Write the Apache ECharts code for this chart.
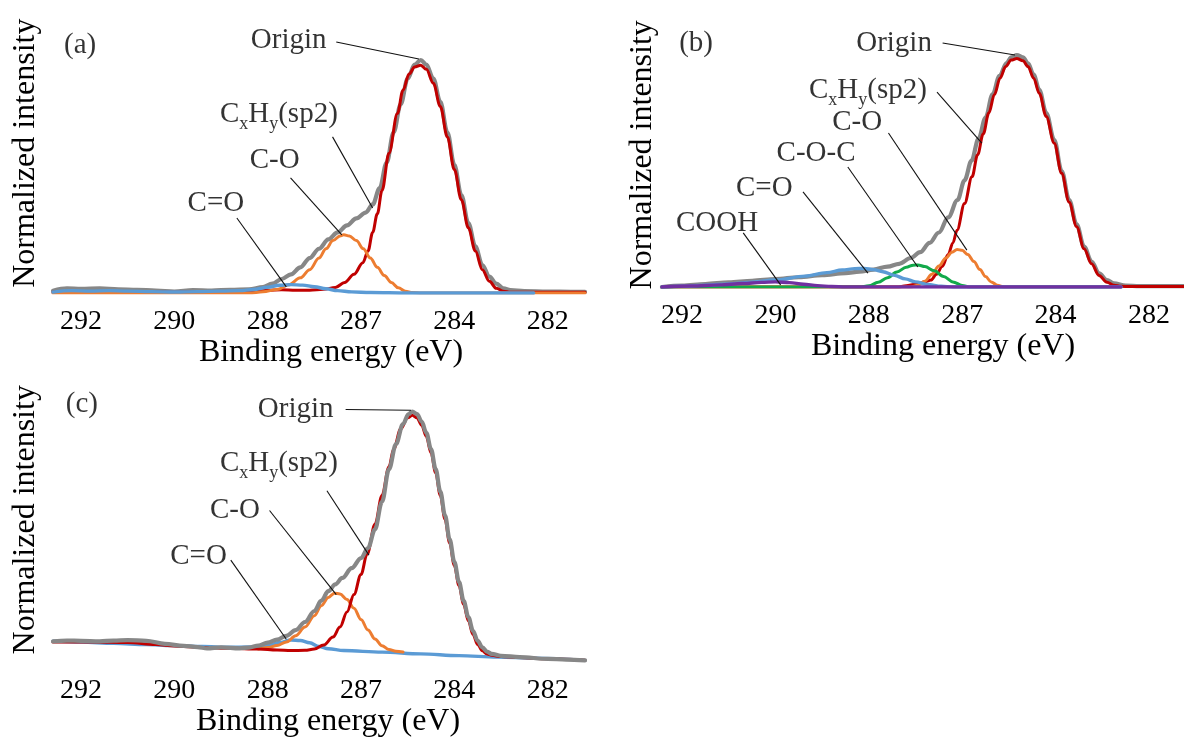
<!DOCTYPE html>
<html>
<head>
<meta charset="utf-8">
<script src="https://cdn.jsdelivr.net/npm/echarts@6/dist/echarts.min.js"></script>
<style>
html,body{margin:0;padding:0;background:#fff;}
#chart{width:1184px;height:739px;}
</style>
</head>
<body>
<div id="chart"></div>
<script>
// ---------- tick labels ----------
const tickValues = [292, 290, 288, 286, 284, 282];
const tickLabels = ['292', '290', '288', '287', '284', '282'];

// ---------- panel (a) : [binding energy eV, normalized intensity] ----------
const aOrigin = [[292.6,0.01],[292.3,0.02],[292.0,0.018],[291.6,0.02],[291.2,0.016],[290.8,0.014],[290.4,0.01],[290.0,0.006],[289.6,0.012],[289.2,0.01],[288.8,0.014],[288.4,0.016],[288.1,0.025],[287.9,0.04],[287.7,0.06],[287.5,0.08],[287.3,0.11],[287.1,0.15],[286.9,0.19],[286.7,0.23],[286.5,0.26],[286.3,0.29],[286.1,0.32],[285.9,0.345],[285.75,0.38],[285.6,0.45],[285.45,0.56],[285.3,0.69],[285.15,0.81],[285.0,0.92],[284.85,0.98],[284.72,1.0],[284.6,0.98],[284.45,0.92],[284.3,0.82],[284.15,0.69],[284.0,0.55],[283.85,0.42],[283.7,0.3],[283.55,0.2],[283.4,0.12],[283.25,0.07],[283.1,0.04],[282.95,0.02],[282.8,0.012],[282.5,0.008],[282.0,0.006],[281.5,0.005],[281.2,0.005]];
const aCxHy = [[292.6,0.003],[291.0,0.003],[289.5,0.003],[288.4,0.003],[288.2,0.008],[288.0,0.012],[287.7,0.014],[287.4,0.012],[287.1,0.012],[286.8,0.016],[286.55,0.024],[286.35,0.045],[286.15,0.08],[285.96,0.13],[285.85,0.18],[285.75,0.26],[285.65,0.34],[285.55,0.44],[285.4,0.6],[285.22,0.77],[285.1,0.87],[284.97,0.94],[284.85,0.97],[284.72,0.978],[284.6,0.96],[284.45,0.9],[284.3,0.8],[284.15,0.67],[284.0,0.53],[283.85,0.4],[283.7,0.28],[283.55,0.18],[283.4,0.1],[283.25,0.05],[283.1,0.02],[282.95,0.008],[282.8,0.003],[281.2,0.003]];
const aCO = [[292.6,0.0],[288.4,0.0],[288.1,0.005],[287.8,0.015],[287.55,0.035],[287.3,0.065],[287.1,0.1],[286.9,0.15],[286.75,0.19],[286.6,0.225],[286.45,0.245],[286.37,0.25],[286.25,0.245],[286.1,0.225],[285.95,0.19],[285.8,0.15],[285.65,0.11],[285.5,0.075],[285.35,0.045],[285.2,0.022],[285.05,0.008],[284.9,0.002],[284.7,0.0],[281.2,0.0]];
const aCdO = [[292.6,0.004],[292.2,0.01],[291.8,0.008],[291.4,0.01],[291.0,0.008],[290.5,0.006],[290.0,0.004],[289.5,0.006],[289.0,0.008],[288.6,0.01],[288.3,0.015],[288.0,0.025],[287.75,0.033],[287.5,0.036],[287.25,0.034],[287.0,0.027],[286.75,0.018],[286.5,0.01],[286.2,0.005],[285.8,0.002],[285.0,0.0],[284.0,0.0],[283.0,0.0],[282.3,0.0]];

// ---------- panel (b) ----------
const bOrigin = [[292.43,0.0],[292.0,0.006],[291.5,0.013],[291.0,0.02],[290.5,0.027],[290.0,0.034],[289.5,0.042],[289.0,0.051],[288.5,0.06],[288.2,0.066],[287.9,0.075],[287.6,0.088],[287.35,0.1],[287.1,0.125],[286.9,0.15],[286.7,0.19],[286.5,0.235],[286.3,0.3],[286.1,0.375],[285.95,0.46],[285.8,0.545],[285.65,0.64],[285.5,0.73],[285.35,0.83],[285.2,0.91],[285.05,0.965],[284.95,0.99],[284.83,1.0],[284.7,0.99],[284.59,0.964],[284.47,0.915],[284.35,0.85],[284.2,0.75],[284.03,0.634],[283.87,0.5],[283.71,0.375],[283.55,0.27],[283.39,0.174],[283.23,0.11],[283.07,0.059],[282.9,0.03],[282.75,0.016],[282.5,0.006],[282.2,0.004],[281.8,0.004],[281.25,0.004]];
const bCxHy = [[292.43,0.0],[287.4,0.0],[287.2,0.005],[287.0,0.012],[286.8,0.022],[286.67,0.03],[286.55,0.055],[286.43,0.088],[286.3,0.14],[286.2,0.19],[286.11,0.245],[285.95,0.36],[285.79,0.475],[285.67,0.57],[285.55,0.66],[285.43,0.75],[285.31,0.83],[285.19,0.9],[285.07,0.95],[284.95,0.978],[284.83,0.985],[284.7,0.975],[284.59,0.95],[284.47,0.9],[284.35,0.835],[284.2,0.735],[284.03,0.62],[283.87,0.49],[283.71,0.365],[283.55,0.26],[283.39,0.165],[283.23,0.1],[283.07,0.05],[282.9,0.02],[282.75,0.008],[282.6,0.003],[282.4,0.002],[281.25,0.002]];
const bCO = [[292.43,0.0],[287.1,0.0],[286.95,0.008],[286.8,0.025],[286.65,0.055],[286.5,0.09],[286.35,0.125],[286.22,0.15],[286.11,0.162],[286.0,0.158],[285.88,0.14],[285.75,0.11],[285.62,0.075],[285.5,0.045],[285.38,0.022],[285.25,0.008],[285.1,0.0],[282.6,0.0]];
const bCOC = [[292.43,0.0],[288.2,0.0],[288.0,0.005],[287.8,0.02],[287.6,0.04],[287.4,0.065],[287.2,0.085],[287.05,0.094],[286.95,0.095],[286.8,0.088],[286.6,0.07],[286.4,0.045],[286.2,0.022],[286.0,0.007],[285.85,0.0],[282.6,0.0]];
const bCdO = [[292.43,0.0],[292.0,0.003],[291.5,0.008],[291.0,0.013],[290.57,0.02],[290.0,0.03],[289.37,0.047],[288.9,0.062],[288.57,0.073],[288.3,0.079],[288.1,0.08],[287.9,0.075],[287.7,0.066],[287.45,0.05],[287.22,0.035],[287.0,0.022],[286.74,0.011],[286.45,0.003],[286.2,0.0],[282.6,0.0]];
const bCOOH = [[292.43,0.0],[291.8,0.004],[291.2,0.009],[290.7,0.015],[290.3,0.02],[290.0,0.022],[289.7,0.019],[289.4,0.012],[289.1,0.006],[288.8,0.002],[288.5,0.0],[282.6,0.0]];

// ---------- panel (c) ----------
const cOrigin = [[292.6,0.083],[292.3,0.086],[292.0,0.085],[291.6,0.083],[291.3,0.086],[291.0,0.088],[290.6,0.085],[290.2,0.073],[289.8,0.065],[289.5,0.06],[289.3,0.055],[289.0,0.059],[288.6,0.055],[288.4,0.058],[288.2,0.066],[288.0,0.078],[287.8,0.09],[287.6,0.105],[287.4,0.128],[287.2,0.16],[287.0,0.204],[286.85,0.245],[286.7,0.283],[286.55,0.31],[286.4,0.336],[286.2,0.375],[286.0,0.415],[285.85,0.455],[285.7,0.53],[285.55,0.64],[285.4,0.77],[285.25,0.87],[285.1,0.95],[284.98,0.99],[284.9,1.0],[284.8,0.99],[284.7,0.96],[284.6,0.915],[284.5,0.85],[284.4,0.77],[284.3,0.68],[284.2,0.586],[284.1,0.49],[284.0,0.4],[283.9,0.32],[283.8,0.244],[283.7,0.18],[283.6,0.125],[283.5,0.085],[283.4,0.059],[283.3,0.042],[283.2,0.033],[283.0,0.025],[282.6,0.02],[282.0,0.013],[281.6,0.01],[281.2,0.007]];
const cCxHy = [[292.6,0.08],[291.8,0.08],[291.0,0.078],[290.4,0.07],[290.0,0.064],[289.4,0.058],[288.8,0.055],[288.2,0.052],[287.8,0.048],[287.5,0.046],[287.2,0.047],[287.0,0.052],[286.8,0.068],[286.6,0.1],[286.45,0.14],[286.3,0.2],[286.15,0.27],[286.0,0.35],[285.87,0.43],[285.7,0.55],[285.55,0.665],[285.4,0.78],[285.3,0.85],[285.15,0.93],[285.0,0.975],[284.9,0.985],[284.8,0.975],[284.7,0.945],[284.6,0.9],[284.5,0.835],[284.4,0.755],[284.3,0.665],[284.2,0.57],[284.1,0.475],[284.0,0.385],[283.9,0.305],[283.8,0.23],[283.7,0.165],[283.6,0.11],[283.5,0.07],[283.4,0.045],[283.3,0.032],[283.2,0.027],[283.0,0.022],[282.6,0.018],[282.0,0.013],[281.2,0.007]];
const cCO = [[288.2,0.052],[288.0,0.058],[287.8,0.066],[287.6,0.08],[287.4,0.105],[287.2,0.14],[287.0,0.185],[286.85,0.225],[286.7,0.258],[286.57,0.275],[286.45,0.272],[286.3,0.25],[286.15,0.215],[286.0,0.17],[285.85,0.128],[285.7,0.092],[285.55,0.065],[285.4,0.05],[285.25,0.043],[285.1,0.04]];
const cCdO = [[292.6,0.083],[292.0,0.08],[291.3,0.075],[290.6,0.07],[290.06,0.066],[289.4,0.062],[288.83,0.059],[288.4,0.06],[288.0,0.066],[287.75,0.078],[287.5,0.088],[287.3,0.086],[287.1,0.077],[286.9,0.062],[286.7,0.053],[286.37,0.046],[285.55,0.04],[284.72,0.033],[283.9,0.026],[283.08,0.02],[282.26,0.016],[281.2,0.007]];

// ---------- annotation texts ----------
const panelTags = ['(a)', '(b)', '(c)'];
const SUB_LABEL = '{n|C}{s|x}{n|H}{s|y}{n|(sp2)}';

// ---------- styling ----------
const FONT = 'Liberation Serif';
const TXT = '#000';
const COL = {gray:'#878787', red:'#c00000', orange:'#ed7d31', blue:'#5b9bd5', green:'#12a94a', purple:'#7030a0'};

const chart = echarts.init(document.getElementById('chart'), null, {renderer:'canvas'});

function xAxisDef(gi, min, max, padLeft){
  return {
    gridIndex: gi, type:'value', inverse:true, min:min, max:max,
    axisLine:{show:false}, axisTick:{show:false}, splitLine:{show:false},
    axisLabel:{
      customValues: tickValues,
      formatter: v => { const i = tickValues.indexOf(Math.round(v)); return i >= 0 ? tickLabels[i] : ''; },
      fontFamily:FONT, fontSize:28, color:TXT, margin:15
    },
    name:'Binding energy (eV)', nameLocation:'middle', nameGap:40,
    nameTextStyle:{fontFamily:FONT, fontSize:32, color:TXT, padding:[0,0,0,padLeft]}
  };
}
function yAxisDef(gi, gap, padR){
  return {
    gridIndex: gi, type:'value', min:0, max:1.2,
    axisLine:{show:false}, axisTick:{show:false}, splitLine:{show:false}, axisLabel:{show:false},
    name:'Normalized intensity', nameLocation:'middle', nameGap:gap,
    nameTextStyle:{fontFamily:FONT, fontSize:32, color:TXT, padding:[0,padR,0,0]}
  };
}
function curve(gi, data, color, width){
  return {type:'line', xAxisIndex:gi, yAxisIndex:gi, data:data, showSymbol:false, symbol:'none',
    smooth:0.35, smoothMonotone:'x', silent:true, animation:false,
    lineStyle:{color:color, width:width, cap:'round', join:'round'}};
}
const richStyle = {
  n:{fontFamily:FONT, fontSize:29, color:TXT, lineHeight:34, verticalAlign:'top'},
  s:{fontFamily:FONT, fontSize:18, color:TXT, lineHeight:18, verticalAlign:'top', padding:[15,0,0,0]}
};
function labels(gi, items){
  return {type:'scatter', xAxisIndex:gi, yAxisIndex:gi, symbolSize:1, silent:true, animation:false,
    itemStyle:{color:'rgba(0,0,0,0)'},
    data: items.map(it => ({value:[it[1], it[2]], name:it[0]})),
    label:{show:true, position:'inside', formatter: p => p.name, fontFamily:FONT, fontSize:29, color:TXT, rich:richStyle},
    z:10};
}
function leaders(gi, segs){
  return {type:'lines', coordinateSystem:'cartesian2d', xAxisIndex:gi, yAxisIndex:gi, silent:true, animation:false,
    lineStyle:{color:'#111', width:1.1, opacity:1}, data: segs.map(s => ({coords:[[s[0],s[1]],[s[2],s[3]]]})), z:9};
}

const option = {
  backgroundColor:'#fff',
  animation:false,
  grid:[
    {left:53, top:13.4, width:532, height:279.6},
    {left:662, top:8.6, width:522, height:278.4},
    {left:53, top:361.4, width:532, height:303.6}
  ],
  xAxis:[ xAxisDef(0, 281.2, 292.6, 24), xAxisDef(1, 281.25, 292.43, 40), xAxisDef(2, 281.2, 292.6, 18) ],
  yAxis:[ yAxisDef(0, 11, 0), yAxisDef(1, 3, 14), yAxisDef(2, 11, 16) ],
  series:[
    // (a)
    curve(0, aOrigin, COL.gray, 4.2),
    curve(0, aCxHy, COL.red, 3),
    curve(0, aCO, COL.orange, 3),
    curve(0, aCdO, COL.blue, 3.4),
    leaders(0, [
      [286.53,1.077,284.76,1.004],
      [286.61,0.67,285.75,0.365],
      [287.51,0.494,286.41,0.249],
      [288.66,0.322,287.6,0.026]
    ]),
    labels(0, [
      [panelTags[0],292.02,1.064],
      ['Origin',287.55,1.086],
      [SUB_LABEL,287.76,0.755],
      ['C-O',287.85,0.571],
      ['C=O',289.11,0.386]
    ]),
    // (b)
    curve(1, bOrigin, COL.gray, 4.2),
    curve(1, bCxHy, COL.red, 3),
    curve(1, bCO, COL.orange, 3),
    curve(1, bCOC, COL.green, 3),
    curve(1, bCdO, COL.blue, 3.4),
    curve(1, bCOOH, COL.purple, 3.4),
    leaders(1, [
      [286.42,1.052,284.87,1.0],
      [286.54,0.84,285.58,0.62],
      [287.58,0.664,285.9,0.159],
      [288.45,0.517,286.95,0.086],
      [289.41,0.41,288.02,0.06],
      [290.69,0.233,289.89,0.009]
    ]),
    labels(1, [
      [panelTags[1],291.7,1.052],
      ['Origin',287.46,1.052],
      [SUB_LABEL,288.02,0.836],
      ['C-O',288.25,0.711],
      ['C-O-C',289.13,0.578],
      ['C=O',290.24,0.427],
      ['COOH',291.25,0.276]
    ]),
    // (c)
    curve(2, cCdO, COL.blue, 3.4),
    curve(2, cCO, COL.orange, 3),
    curve(2, cCxHy, COL.red, 3),
    curve(2, cOrigin, COL.gray, 4.2),
    leaders(2, [
      [286.33,1.008,284.93,1.005],
      [286.73,0.684,285.83,0.427],
      [287.96,0.605,286.53,0.269],
      [288.79,0.407,287.6,0.091]
    ]),
    labels(2, [
      [panelTags[2],291.98,1.028],
      ['Origin',287.4,1.008],
      [SUB_LABEL,287.76,0.783],
      ['C-O',288.7,0.605],
      ['C=O',289.48,0.423]
    ])
  ]
};
chart.setOption(option);
</script>
</body>
</html>
